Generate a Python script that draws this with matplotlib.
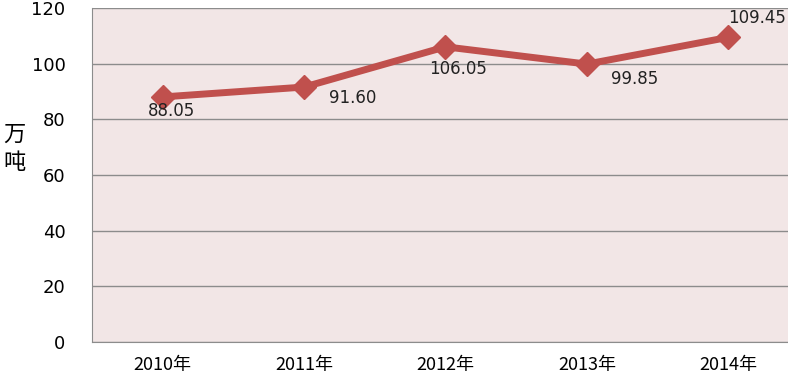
import matplotlib
matplotlib.use("Agg")
import matplotlib.pyplot as plt

plt.rcParams['font.family'] = ['Noto Sans CJK SC', 'DejaVu Sans']

years = ["2010年", "2011年", "2012年", "2013年", "2014年"]
values = [88.05, 91.60, 106.05, 99.85, 109.45]
value_labels = ["88.05", "91.60", "106.05", "99.85", "109.45"]
y_ticks = [0, 20, 40, 60, 80, 100, 120]

# label offsets (points) and alignment, per point
offsets = [(6, -10), (18, -8), (9, -16), (17, -11), (0, 14)]
aligns = ["center", "left", "center", "left", "left"]

LINE = "#C0504D"
GRID = "#8C8C8C"

fig = plt.figure(figsize=(7.88, 3.77), dpi=100)
ax = fig.add_axes([92 / 788, 35 / 377, 707 / 788, 334 / 377])
ax.set_facecolor("#F2E6E6")

x = list(range(len(years)))
ax.plot(x, values, color=LINE, linewidth=5, marker="D", markersize=12.5,
        zorder=3, clip_on=False)

for i, (v, lab) in enumerate(zip(values, value_labels)):
    ax.annotate(lab, (i, v), xytext=offsets[i], textcoords="offset points",
                ha=aligns[i], va="center", fontsize=12, color="#222222",
                family="DejaVu Sans")

ax.set_xlim(-0.5, len(years) - 0.5)
ax.set_ylim(0, 120)
ax.set_yticks(y_ticks)
ax.set_yticklabels([str(t) for t in y_ticks], fontsize=13, family="DejaVu Sans")
ax.set_xticks(x)
ax.set_xticklabels(years, fontsize=13)
ax.tick_params(axis="y", length=0, pad=19)
ax.tick_params(axis="x", length=0, pad=10)
ax.yaxis.grid(True, color=GRID, linewidth=1)
ax.set_axisbelow(True)
for side in ["top", "right"]:
    ax.spines[side].set_visible(False)
ax.spines["left"].set_color(GRID)
ax.spines["bottom"].set_color(GRID)

fig.text(14 / 788, 1 - 148 / 377, "万\n吨", fontsize=16, ha="center",
         va="center", linespacing=1.3)

fig.savefig("out.png", dpi=100)
